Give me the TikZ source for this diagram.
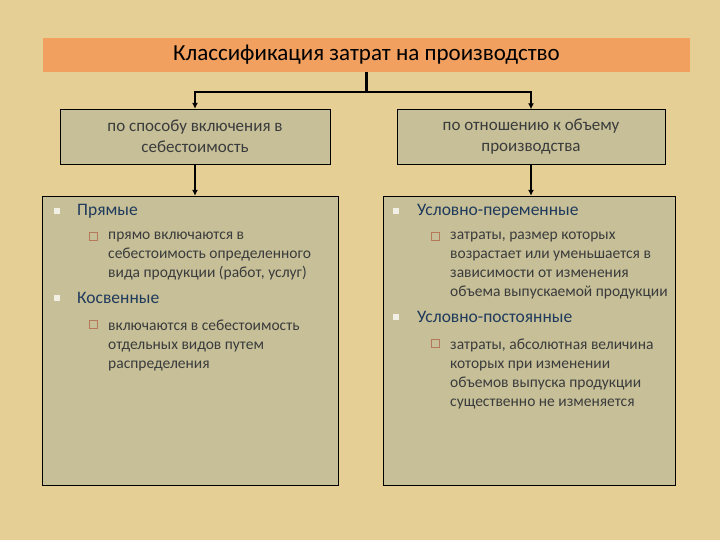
\documentclass[tikz,border=0pt]{standalone}
\usepackage{fontspec}
\setmainfont{Carlito}
\usetikzlibrary{arrows.meta, backgrounds}
\definecolor{my_parchment}{HTML}{E6CF95}
\definecolor{my_orange}{HTML}{F2A060}
\definecolor{my_khaki}{HTML}{C6BF97}
\definecolor{my_darkblue}{HTML}{1F3A5C}
\definecolor{my_darkgray}{HTML}{3A3B3C}
\definecolor{my_rust}{HTML}{B4785A}
\definecolor{my_bullet}{HTML}{F2F0E4}

\begin{document}
\begin{tikzpicture}[
    x=1pt, y=-1pt,
    headbar/.style={fill=my_orange, minimum width=647pt, minimum height=34pt,
        inner sep=0pt, font=\fontsize{23}{26}\selectfont, text=black},
    critbox/.style={fill=my_khaki, draw=black, thin, minimum height=55pt,
        inner sep=0pt, align=center, text=my_darkgray,
        font=\fontsize{17}{21}\selectfont},
    panel/.style={fill=my_khaki, draw=black, thin, inner sep=0pt},
    mainitem/.style={anchor=west, inner sep=0pt, text=my_darkblue,
        font=\fontsize{17.5}{19}\selectfont},
    subitem/.style={anchor=north west, inner sep=0pt, align=left,
        text=my_darkgray, font=\fontsize{15.5}{19}\selectfont},
    mainbullet/.style={fill=my_bullet, minimum size=6.5pt, inner sep=0pt},
    subbullet/.style={draw=my_rust, fill=none, minimum size=8pt, inner sep=0pt, thin},
    fork/.style={draw=black, line width=2.4pt},
    link/.style={draw=black, line width=2pt, -{Latex[length=6pt, width=6pt]}}
]

%% ================================================================
%% Hintergrund
%% ================================================================
\useasboundingbox (0,0) rectangle (720,540);
\fill[my_parchment] (0,0) rectangle (720,540);

%% ================================================================
%% Kopf und Kriterien
%% ================================================================
\node[headbar] (title) at (366.5, 55) {Классификация затрат на производство};

\node[critbox, minimum width=270pt] (crit1) at (195, 136.5)
    {по способу включения в\\себестоимость};
\node[critbox, minimum width=268pt] (crit2) at (531, 137)
    {по отношению к объему\\производства};

\coordinate (fork) at (366.5, 92);
\draw[fork] (title.south) -- (fork);
\draw[link, line width=2.4pt] (fork) -| (crit1.north);
\draw[link, line width=2.4pt] (fork) -| (crit2.north);

%% ================================================================
%% LINKES PANEL
%% ================================================================
\node[panel, minimum width=296pt, minimum height=289pt] (left) at (190, 340.5) {};
\draw[link] (crit1.south) -- (crit1.south |- left.north);

\node[mainbullet] (lb1) at (57, 211) {};
\node[mainitem] (direct) at (77, 211) {Прямые};
\node[subbullet] (ls1) at (93, 236.5) {};
\node[subitem] (directtxt) at (108, 231.5)
    {прямо включаются в\\себестоимость определенного\\вида продукции (работ, услуг)};

\node[mainbullet] (lb2) at (57, 298) {};
\node[mainitem] (indirect) at (77, 298) {Косвенные};
\node[subbullet] (ls2) at (93, 324.5) {};
\node[subitem] (indirecttxt) at (108, 319.5)
    {включаются в себестоимость\\отдельных видов путем\\распределения};

%% ================================================================
%% RECHTES PANEL
%% ================================================================
\node[panel, minimum width=292pt, minimum height=289pt] (right) at (529, 340.5) {};
\draw[link] (crit2.south) -- (crit2.south |- right.north);

\node[mainbullet] (rb1) at (396, 211) {};
\node[mainitem] (variable) at (417, 211) {Условно-переменные};
\node[subbullet] (rs1) at (435, 236.5) {};
\node[subitem] (variabletxt) at (450, 231.5)
    {затраты, размер которых\\возрастает или уменьшается в\\зависимости от изменения\\объема выпускаемой продукции};

\node[mainbullet] (rb2) at (396, 317) {};
\node[mainitem] (fixed) at (417, 317) {Условно-постоянные};
\node[subbullet] (rs2) at (435, 343.5) {};
\node[subitem] (fixedtxt) at (450, 338.5)
    {затраты, абсолютная величина\\которых при изменении\\объемов выпуска продукции\\существенно не изменяется};

\end{tikzpicture}
\end{document}
